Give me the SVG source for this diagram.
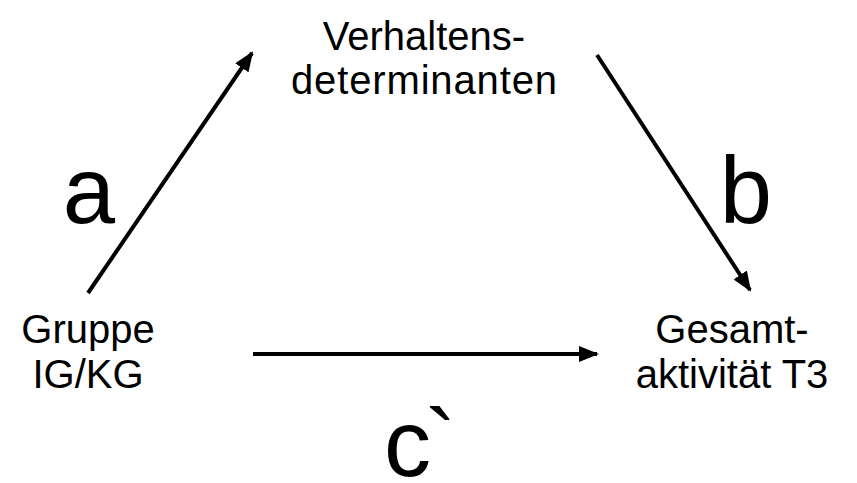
<svg xmlns="http://www.w3.org/2000/svg" width="857" height="483" viewBox="0 0 857 483">
<style>
text{font-family:"Liberation Sans",Arial,sans-serif;fill:#000;text-anchor:middle}
.n{font-size:40px}
.l{font-size:94px}
.c{stroke:#000;stroke-width:4;fill:none;marker-end:url(#ah)}
</style>
<defs>
<marker id="ah" markerWidth="5" markerHeight="4" refX="4.5" refY="2" orient="auto" markerUnits="strokeWidth">
<path d="M0,0 L5,2 L0,4 z" fill="#000"/>
</marker>
</defs>
<rect width="857" height="483" fill="#fff"/>
<g id="connectors">
<line class="c" x1="88" y1="293" x2="252" y2="53"/>
<line class="c" x1="597" y1="55" x2="750" y2="290"/>
<line class="c" x1="253" y1="354" x2="597" y2="354"/>
</g>
<g id="node-verhalten"><text class="n" x="424" y="50">Verhaltens-</text><text class="n" x="424" y="94" textLength="266">determinanten</text></g>
<g id="node-gruppe"><text class="n" x="88" y="343">Gruppe</text><text class="n" x="88" y="388">IG/KG</text></g>
<g id="node-gesamt"><text class="n" x="732" y="343">Gesamt-</text><text class="n" x="732" y="388">aktivität T3</text></g>
<g id="labels">
<text class="l" x="89" y="223">a</text>
<text class="l" x="746" y="223">b</text>
<text class="l" x="384" y="476" style="text-anchor:start;letter-spacing:-6px">c`</text>
</g>
</svg>
